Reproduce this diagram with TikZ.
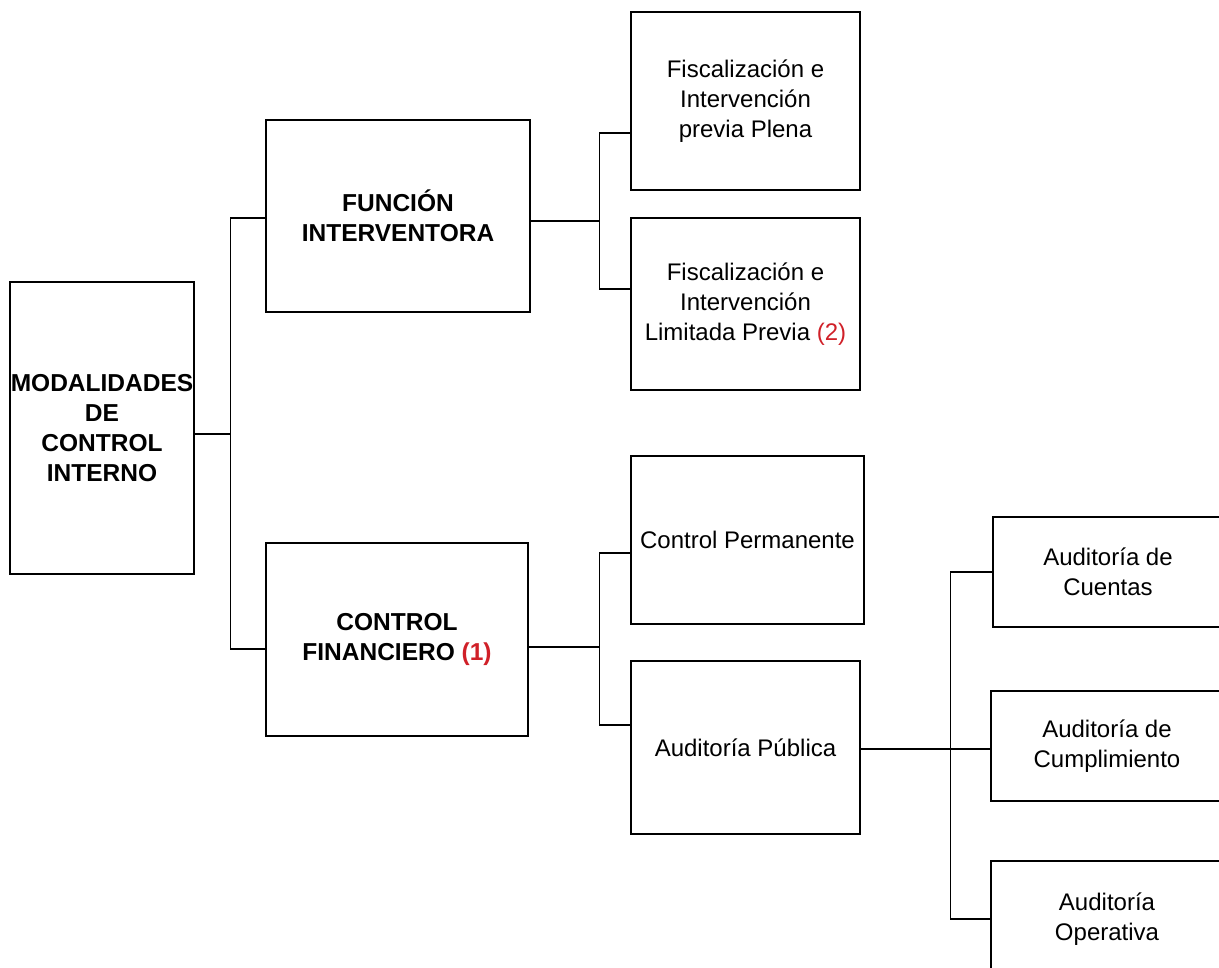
\documentclass[tikz,border=0pt]{standalone}
\usepackage{fontspec}
\setmainfont{Liberation Sans}
\definecolor{rojo}{RGB}{208,32,40}
\begin{document}
\begin{tikzpicture}[x=1pt,y=-1pt,line width=1.3pt,
		caja/.style={draw,align=center,inner sep=2pt,font=\fontsize{24}{30}\selectfont},
		titulo/.style={caja,font=\fontsize{24.5}{30}\selectfont\bfseries}]
		\useasboundingbox (0,0) rectangle (1219,968);
		% cajas
		\node[titulo,minimum width=184pt,minimum height=292pt,inner sep=0pt] (mod) at (102,428) {MODALIDADES\\DE\\CONTROL\\INTERNO};
		\node[titulo,minimum width=264pt,minimum height=192pt] (fi) at (398,216) {FUNCIÓN\\INTERVENTORA};
		\node[titulo,minimum width=262pt,minimum height=193pt] (cf) at (397,639.5) {CONTROL\\FINANCIERO \textcolor{rojo}{(1)}};
		\node[caja,minimum width=229pt,minimum height=178pt] (fa) at (745.5,101) {Fiscalización e\\Intervención\\previa Plena};
		\node[caja,minimum width=229pt,minimum height=172pt] (fb) at (745.5,304) {Fiscalización e\\Intervención\\Limitada Previa \textcolor{rojo}{(2)}};
		\node[caja,minimum width=233pt,minimum height=168pt] (cp) at (747.5,540) {Control Permanente};
		\node[caja,minimum width=229pt,minimum height=173pt] (ap) at (745.5,747.5) {Auditoría Pública};
		\node[caja,minimum width=230pt,minimum height=110pt] (ac) at (1108,572) {Auditoría de\\Cuentas};
		\node[caja,minimum width=232pt,minimum height=110pt] (acu) at (1107,746) {Auditoría de\\Cumplimiento};
		\node[caja,minimum width=232pt,minimum height=116pt] (ao) at (1107,919) {Auditoría\\Operativa};
		% conectores
		\draw ([yshift=-6pt]mod.east) -- ++(36,0) coordinate (b1);
		\draw ([yshift=-2pt]fi.west) -| (b1) |- ([yshift=-9.5pt]cf.west);
		\draw ([yshift=-5pt]fi.east) -- ++(69,0) coordinate (b2);
		\draw ([yshift=-32pt]fa.west) -| (b2) |- ([yshift=15pt]fb.west);
		\draw ([yshift=-7.5pt]cf.east) -- ++(71,0) coordinate (b3);
		\draw ([yshift=-13pt]cp.west) -| (b3) |- ([yshift=22.5pt]ap.west);
		\draw ([yshift=-1.5pt]ap.east) -- ++(90,0) coordinate (b4);
		\draw (ac.west) -| (b4) |- (ao.west);
		\draw (b4) -- (acu.west |- b4);
\end{tikzpicture}
\end{document}
